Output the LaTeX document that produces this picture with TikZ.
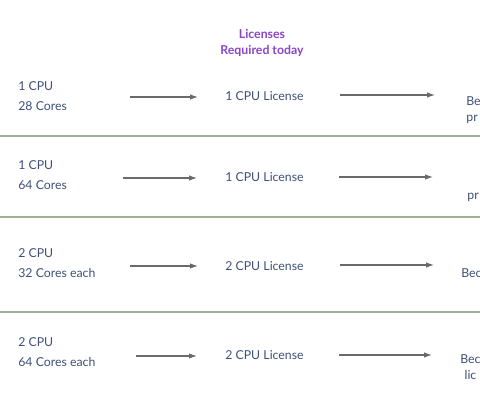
\documentclass[tikz,border=0pt]{standalone}
\usepackage{fontspec}
\setmainfont{Lato}
\usepackage{xcolor}
\usepackage{tikz}
\usetikzlibrary{arrows.meta,positioning}
\definecolor{Ink}{HTML}{3F5079}
\definecolor{Violet}{HTML}{8A45C8}
\definecolor{ArrowGray}{HTML}{6A6A6A}
\definecolor{RowLine}{HTML}{9BB394}
\tikzset{
  spec/.style={anchor=west,font=\fontsize{7}{8}\selectfont,text=Ink,inner sep=0pt},
  lic/.style={anchor=west,font=\fontsize{7}{8}\selectfont,text=Ink,inner sep=0pt},
  head/.style={align=center,font=\fontsize{7}{9.5}\selectfont\bfseries,text=Violet,inner sep=0pt},
  frag/.style={anchor=west,align=left,font=\fontsize{7}{9}\selectfont,text=Ink,inner sep=0pt},
  arrow/.style={-{Latex[length=1.6mm,width=1.1mm]},line width=0.6pt,draw=ArrowGray},
  sep/.style={draw=RowLine,line width=0.8pt}
}

\begin{document}
\begin{tikzpicture}[x=0.02cm,y=-0.02cm]
  \useasboundingbox[fill=white] (0,0) rectangle (480,415);

  \node[head] (hdr) at (262,43) {Licenses\\Required today};

  % row 1
  \node[spec] (cpuA) at (18,86) {1 CPU};
  \node[spec] (coreA) at (18,106) {28 Cores};
  \node[lic] (licA) at (225,96) {1 CPU License};
  \node[frag] (fragA) at (466,110) {Be\\pr};
  \coordinate (inA) at (130,97);
  \coordinate (outA) at (435,95);
  \draw[arrow] (inA) -- (198,97);
  \draw[arrow] (340,95) -- (outA);

  \draw[sep] (0,136) -- (480,136);

  % row 2
  \node[spec] (cpuB) at (18,165) {1 CPU};
  \node[spec] (coreB) at (18,185) {64 Cores};
  \node[lic] (licB) at (225,177) {1 CPU License};
  \node[frag] (fragB) at (467,197) {pr};
  \coordinate (inB) at (123,178);
  \coordinate (outB) at (433,177);
  \draw[arrow] (inB) -- (197,178);
  \draw[arrow] (339,177) -- (outB);

  \draw[sep] (0,217) -- (480,217);

  % row 3
  \node[spec] (cpuC) at (18,253) {2 CPU};
  \node[spec] (coreC) at (18,273) {32 Cores each};
  \node[lic] (licC) at (225,266) {2 CPU License};
  \node[frag] (fragC) at (461,273) {Bec};
  \coordinate (inC) at (130,266);
  \coordinate (outC) at (434,265);
  \draw[arrow] (inC) -- (198,266);
  \draw[arrow] (340,265) -- (outC);

  \draw[sep] (0,312) -- (480,312);

  % row 4
  \node[spec] (cpuD) at (18,342) {2 CPU};
  \node[spec] (coreD) at (18,362) {64 Cores each};
  \node[lic] (licD) at (225,355) {2 CPU License};
  \node[frag,align=center] (fragD) at (460,367) {Bec\\lic};
  \coordinate (inD) at (136,356);
  \coordinate (outD) at (432,355);
  \draw[arrow] (inD) -- (197,356);
  \draw[arrow] (339,355) -- (outD);
\end{tikzpicture}
\end{document}
